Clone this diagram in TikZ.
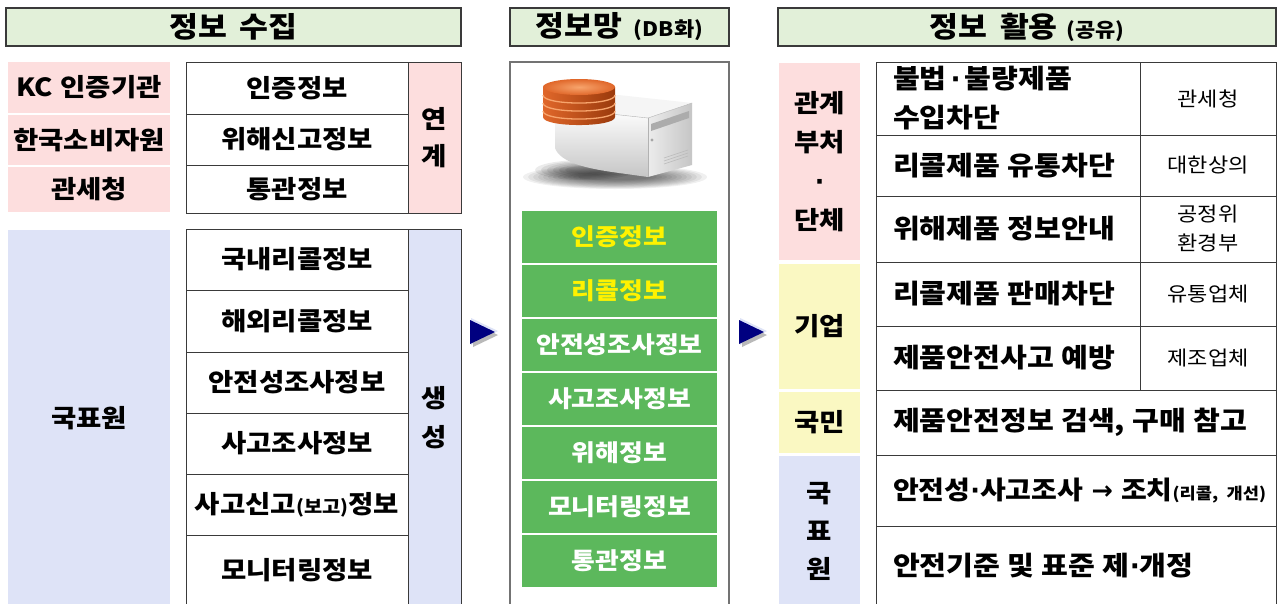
\documentclass[tikz,border=0pt]{standalone}
\usepackage{fontspec}
\setmainfont{Noto Sans CJK KR}[FakeStretch=1.1]
\newfontfamily\dotfont{DejaVu Sans}
\definecolor{hdrgreen}{HTML}{E2F0D9}
\definecolor{pinkbg}{HTML}{FDDEDE}
\definecolor{lavbg}{HTML}{DEE3F7}
\definecolor{yelbg}{HTML}{FAF8C2}
\definecolor{dbgreen}{HTML}{5CB85C}
\definecolor{navyarrow}{HTML}{000080}
\definecolor{rulecol}{HTML}{3A3A3A}
\definecolor{diskdark}{HTML}{9A3A0C}
\definecolor{diskmid}{HTML}{E0672A}
\definecolor{disklight}{HTML}{F7A46C}
\newcommand{\wsp}{\hspace{0.45em}}
\newcommand{\nsp}{\hspace{0.28em}}
\newcommand{\mdot}{{\dotfont\bfseries ·}}
\newcommand{\rarr}{{\dotfont\bfseries →}}
\tikzset{
  base/.style={inner sep=0pt, outer sep=0pt, align=center,
    font=\bfseries\fontsize{25}{30}\selectfont},
  hdr/.style={base, draw=rulecol, line width=1.3pt, fill=hdrgreen,
    font=\bfseries\fontsize{28.5}{32}\selectfont},
  tag/.style={base},
  cell/.style={base, draw=rulecol, line width=1pt, fill=white},
  gbox/.style={base, fill=dbgreen, text=white, minimum width=195pt,
    minimum height=52pt, font=\bfseries\fontsize{23.5}{28}\selectfont},
  lcell/.style={cell, text width=230pt, align=left, inner xsep=17pt,
    font=\bfseries\fontsize{26.5}{39}\selectfont},
  wcell/.style={cell, text width=366pt, align=left, inner xsep=17pt,
    font=\bfseries\fontsize{26.5}{39}\selectfont},
  rcell/.style={cell, minimum width=136pt,
    font=\mdseries\fontsize{20}{29}\selectfont},
}
\begin{document}
\begin{tikzpicture}[x=1pt,y=-1pt]
\useasboundingbox (0,0) rectangle (1277,603);
\fill[white] (0,0) rectangle (1277,603);

% ---------- column headers ----------
\node[hdr, minimum width=455pt, minimum height=38pt] (hcollect) at (233.5,27) {정보\wsp 수집};
\node[hdr, minimum width=219pt, minimum height=38pt] (hnet) at (619.5,27)
  {정보망\hspace{0.4em}{\fontsize{20}{22}\selectfont (DB화)}};
\node[hdr, minimum width=498pt, minimum height=38pt] (huse) at (1027,27)
  {정보\wsp 활용\hspace{0.3em}{\fontsize{20}{22}\selectfont (공유)}};

% ---------- information collection: sources ----------
\node[tag, fill=pinkbg, minimum width=162pt, minimum height=51pt] (kc) at (89,87.5) {KC\hspace{0.3em}인증기관};
\node[tag, fill=pinkbg, minimum width=162pt, minimum height=50pt] (kca) at (89,140) {한국소비자원};
\node[tag, fill=pinkbg, minimum width=162pt, minimum height=45pt] (kcs) at (89,189.5) {관세청};
\node[tag, fill=lavbg, minimum width=162pt, minimum height=376pt] (kats) at (89,418) {국표원};

% linked information
\node[cell, minimum width=222pt, minimum height=52pt] (t1a) at (297,88) {인증정보};
\node[cell, minimum width=222pt, minimum height=51pt] (t1b) at (297,139.5) {위해신고정보};
\node[cell, minimum width=222pt, minimum height=48pt] (t1c) at (297,189) {통관정보};
\node[cell, fill=pinkbg, minimum width=53pt, minimum height=151pt,
      font=\bfseries\fontsize{25}{37}\selectfont] (link) at (434.5,137.5) {연\\계};

% generated information
\node[cell, minimum width=222pt, minimum height=61pt] (r1) at (297,259.5) {국내리콜정보};
\node[cell, minimum width=222pt, minimum height=62pt] (r2) at (297,321) {해외리콜정보};
\node[cell, minimum width=222pt, minimum height=61pt] (r3) at (297,382.5) {안전성조사정보};
\node[cell, minimum width=222pt, minimum height=61pt] (r4) at (297,443.5) {사고조사정보};
\node[cell, minimum width=222pt, minimum height=61pt] (r5) at (297,504.5) {사고신고{\fontsize{18}{20}\selectfont (보고)}정보};
\node[cell, minimum width=222pt, minimum height=71pt] (r6) at (297,570.5) {모니터링정보};
\node[cell, fill=lavbg, minimum width=53pt, minimum height=377pt,
      font=\bfseries\fontsize{25}{39}\selectfont] (gen) at (434.5,417.5) {생\\성};

% ---------- flow arrows ----------
\fill[lavbg] (471,318) -- (498,331) -- (471,345) -- cycle;
\fill[gray!55] (473,323) -- (498,335) -- (473,347) -- cycle;
\fill[navyarrow] (470,320) -- (495,332) -- (470,344) -- cycle;
\fill[lavbg] (740,318) -- (767,331) -- (740,345) -- cycle;
\fill[gray!55] (742,323) -- (767,335) -- (742,347) -- cycle;
\fill[navyarrow] (739,320) -- (764,332) -- (739,344) -- cycle;

% ---------- database panel ----------
\node[draw=black!55, line width=1.3pt, fill=white, inner sep=0pt,
      minimum width=219pt, minimum height=544pt] (dbpanel) at (619.5,334) {};

% server icon: soft shadow
\foreach \i in {0,...,11}
  \fill[black, opacity=0.06]
    (615,177) ellipse [x radius={92-5*\i}, y radius={12-0.8*\i}];
\foreach \i in {0,...,5}
  \fill[black, opacity=0.08]
    (585,170) ellipse [x radius={50-6*\i}, y radius={10-1.2*\i}];
% server body
\shade[top color=white, bottom color=gray!45]
  (555,108) -- (648,118) -- (648,177) -- (612,172)
  .. controls (585,168) and (560,162) .. (555,148) -- cycle;
\shade[left color=gray!15, right color=gray!45]
  (648,118) -- (692,103) -- (692,165) -- (648,177) -- cycle;
\fill[gray!8] (555,108) -- (618,95) -- (692,103) -- (648,118) -- cycle;
\draw[gray!60, line width=0.4pt] (555,108) -- (648,118) -- (692,103);
\draw[gray!60, line width=0.4pt] (648,118) -- (648,177);
\fill[gray!65] (651,124) -- (689,111) -- (689,118) -- (651,131) -- cycle;
\fill[gray!70] (652,140) circle [radius=1.6pt];
\foreach \k in {0,3,6}
  \draw[gray!55, line width=0.6pt] (664,158+\k) -- (688,150+\k);
% disk stack
\shade[left color=diskmid, middle color=disklight, right color=diskdark]
  (543,87) -- (543,117) .. controls (543,127.7) and (615,127.7) .. (615,117)
  -- (615,87) -- cycle;
\foreach \yy in {95,103,111}
  \draw[disklight, line width=1.3pt]
    (543,\yy) .. controls (543,\yy+10.7) and (615,\yy+10.7) .. (615,\yy);
\shade[inner color=disklight, outer color=diskmid]
  (579,87) ellipse [x radius=36pt, y radius=8pt];

% database contents
\node[gbox, text=yellow] (g1) at (619.5,237) {인증정보};
\node[gbox, text=yellow] (g2) at (619.5,291) {리콜정보};
\node[gbox] (g3) at (619.5,345) {안전성조사정보};
\node[gbox] (g4) at (619.5,399) {사고조사정보};
\node[gbox] (g5) at (619.5,453) {위해정보};
\node[gbox] (g6) at (619.5,507) {모니터링정보};
\node[gbox] (g7) at (619.5,561) {통관정보};

% ---------- information use: users ----------
\node[tag, fill=pinkbg, minimum width=81pt, minimum height=197pt,
      font=\bfseries\fontsize{25}{39}\selectfont] (ministry) at (819.5,161.5) {관계\\부처\\\mdot\\단체};
\node[tag, fill=yelbg, minimum width=81pt, minimum height=125pt] (firm) at (819.5,326.5) {기업};
\node[tag, fill=yelbg, minimum width=81pt, minimum height=61pt] (people) at (819.5,422.5) {국민};
\node[tag, fill=lavbg, minimum width=81pt, minimum height=150pt,
      font=\bfseries\fontsize{25}{38}\selectfont] (katsu) at (819.5,531) {국\\표\\원};

% uses and responsible bodies
\node[lcell, minimum height=73pt] (u1) at (1008,98.5) {불법\hspace{0.15em}\mdot\hspace{0.15em}불량제품\\수입차단};
\node[rcell, minimum height=73pt] (b1) at (1208,98.5) {관세청};
\node[lcell, minimum height=61pt] (u2) at (1008,165.5) {리콜제품\nsp 유통차단};
\node[rcell, minimum height=61pt] (b2) at (1208,165.5) {대한상의};
\node[lcell, minimum height=66pt] (u3) at (1008,229) {위해제품\nsp 정보안내};
\node[rcell, minimum height=66pt] (b3) at (1208,229) {공정위\\환경부};
\node[lcell, minimum height=64pt] (u4) at (1008,294) {리콜제품\nsp 판매차단};
\node[rcell, minimum height=64pt] (b4) at (1208,294) {유통업체};
\node[lcell, minimum height=64pt] (u5) at (1008,358) {제품안전사고\nsp 예방};
\node[rcell, minimum height=64pt] (b5) at (1208,358) {제조업체};
\node[wcell, minimum height=65pt] (u6) at (1076,422.5) {제품안전정보\nsp 검색,\nsp 구매\nsp 참고};
\node[wcell, minimum height=71pt, font=\bfseries\fontsize{25.5}{39}\selectfont] (u7) at (1076,490.5)
  {\mbox{안전성\mdot 사고조사\hspace{0.32em}\rarr\hspace{0.32em}조치{\fontsize{16}{20}\selectfont(리콜, 개선)}}};
\node[wcell, minimum height=80pt] (u8) at (1076,566) {안전기준\nsp 및\nsp 표준\nsp 제\mdot 개정};
\end{tikzpicture}
\end{document}
